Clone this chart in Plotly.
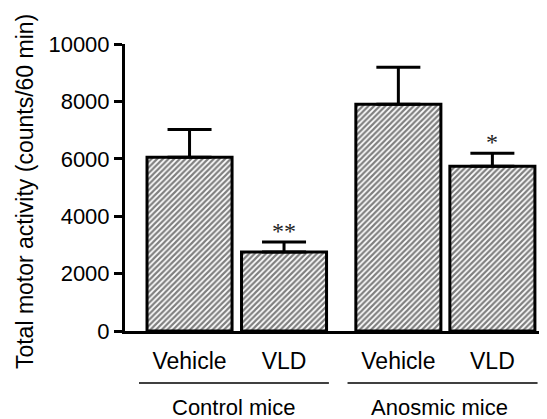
import plotly.graph_objects as go

# Data
bar_labels = ["Vehicle", "VLD", "Vehicle", "VLD"]
groups = ["Control mice", "Anosmic mice"]
means = [6050, 2750, 7900, 5740]
sems = [970, 350, 1290, 450]
stars = ["", "**", "", "*"]
y_ticks = [0, 2000, 4000, 6000, 8000, 10000]
y_tick_text = ["0", "2000", "4000", "6000", "8000", "10000"]
y_title = "Total motor activity (counts/60 min)"

# Layout positions (x units)
xpos = [0, 1, 2.21, 3.205]
group_centers = [(xpos[0] + xpos[1]) / 2 - 0.04, (xpos[2] + xpos[3]) / 2 - 0.06]
group_spans = [(-0.535, 1.475), (1.672, 3.683)]

# The page body has an 8px margin, so the figure is sized/offset to compensate
fig = go.Figure()
fig.add_trace(go.Bar(
    x=xpos, y=means, width=0.9,
    marker=dict(color="white", line=dict(color="black", width=3),
                pattern=dict(shape="/", fgcolor="black", bgcolor="white", size=4, solidity=0.55)),
    error_y=dict(type="data", array=sems, arrayminus=[0] * len(sems), symmetric=False,
                 color="black", thickness=3, width=22),
    showlegend=False,
))

for x, m, s, st in zip(xpos, means, sems, stars):
    if st:
        fig.add_annotation(x=x, y=m + s, text=st, showarrow=False, yanchor="bottom", yshift=-4,
                           font=dict(family="Liberation Serif", size=24, color="#222222"))

for (a, b), g, c in zip(group_spans, groups, group_centers):
    fig.add_shape(type="line", xref="x", yref="paper", x0=a, x1=b, y0=-0.181, y1=-0.181,
                  line=dict(color="black", width=1.5))
    fig.add_annotation(x=c, xref="x", yref="paper", y=-0.268, text=g, showarrow=False,
                       yanchor="middle", font=dict(family="Liberation Sans", size=22, color="black"))

fig.add_annotation(x=0, xref="paper", xshift=-100, y=0.484, yref="paper", text=y_title,
                   textangle=-90, showarrow=False, xanchor="center", yanchor="middle",
                   font=dict(family="Liberation Sans", size=23, color="black"))

fig.update_layout(
    width=539, height=411,
    margin=dict(l=117, r=0, t=36, b=88),
    paper_bgcolor="white", plot_bgcolor="white",
    font=dict(family="Liberation Sans", size=22, color="black"),
    xaxis=dict(range=[-0.683, 3.783], tickmode="array", tickvals=xpos, ticktext=bar_labels,
               showline=True, linecolor="black", linewidth=3, ticks="", showgrid=False,
               zeroline=False, tickfont=dict(size=23), ticklabelstandoff=7, automargin=False),
    yaxis=dict(range=[0, 10000], tickmode="array", tickvals=y_ticks, ticktext=y_tick_text,
               showline=True, linecolor="black", linewidth=3, ticks="outside", ticklen=8,
               tickwidth=3, tickcolor="black", showgrid=False, zeroline=False,
               tickfont=dict(size=22), ticklabelstandoff=0, automargin=False),
)

fig.write_html("out.html")
